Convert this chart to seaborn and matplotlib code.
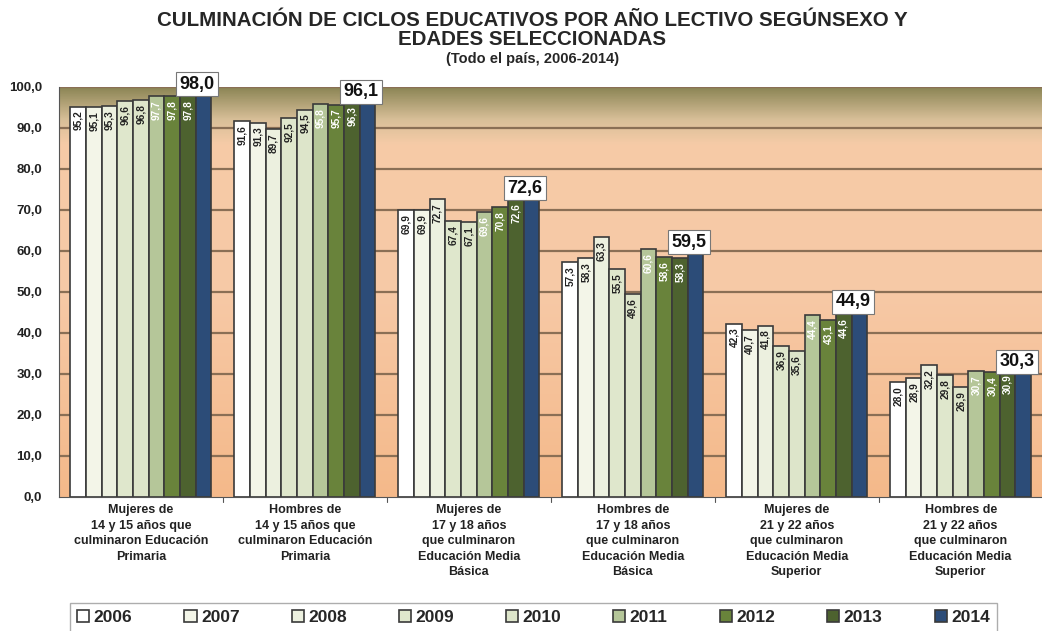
import matplotlib
matplotlib.use("Agg")
import matplotlib.pyplot as plt
import numpy as np
import pandas as pd
import seaborn as sns
from matplotlib.colors import LinearSegmentedColormap

years = ["2006", "2007", "2008", "2009", "2010", "2011", "2012", "2013", "2014"]
groups = [
    "Mujeres de\n14 y 15 años que\nculminaron Educación\nPrimaria",
    "Hombres de\n14 y 15 años que\nculminaron Educación\nPrimaria",
    "Mujeres de\n17 y 18 años\nque culminaron\nEducación Media\nBásica",
    "Hombres de\n17 y 18 años\nque culminaron\nEducación Media\nBásica",
    "Mujeres de\n21 y 22 años\nque culminaron\nEducación Media\nSuperior",
    "Hombres de\n21 y 22 años\nque culminaron\nEducación Media\nSuperior",
]
muj_primaria = [95.2, 95.1, 95.3, 96.6, 96.8, 97.7, 97.8, 97.8, 98.0]
hom_primaria = [91.6, 91.3, 89.7, 92.5, 94.5, 95.8, 95.7, 96.3, 96.1]
muj_basica = [69.9, 69.9, 72.7, 67.4, 67.1, 69.6, 70.8, 72.6, 72.6]
hom_basica = [57.3, 58.3, 63.3, 55.5, 49.6, 60.6, 58.6, 58.3, 59.5]
muj_superior = [42.3, 40.7, 41.8, 36.9, 35.6, 44.4, 43.1, 44.6, 44.9]
hom_superior = [28.0, 28.9, 32.2, 29.8, 26.9, 30.7, 30.4, 30.9, 30.3]

series = [muj_primaria, hom_primaria, muj_basica, hom_basica, muj_superior, hom_superior]
colors = ["#ffffff", "#f4f7e6", "#eef3dc", "#e1ebc8", "#dfe9c6",
          "#b7cd92", "#6d8f2f", "#4e6a27", "#1f4a85"]
text_colors = ["#222222"] * 5 + ["#ffffff"] * 3

rows = []
for g, vals in zip(groups, series):
    for y, v in zip(years, vals):
        rows.append({"grupo": g, "anio": y, "valor": v})
df = pd.DataFrame(rows)

sns.set_style("white")
plt.rcParams["font.family"] = ["Liberation Sans", "DejaVu Sans"]

fig = plt.figure(figsize=(10.42, 6.31), dpi=100)
ax = fig.add_axes([0.0566, 0.2124, 0.944, 0.6498])

# fondo degradado
bg = LinearSegmentedColormap.from_list(
    "bg", [(0.0, "#f4b98a"), (0.5, "#f7c9a6"), (0.86, "#f6cba7"),
           (0.92, "#d8bf98"), (1.0, "#8a8454")])
grad = np.linspace(0, 1, 256).reshape(-1, 1)
ax.imshow(grad, cmap=bg, origin="lower", aspect="auto",
          extent=[-0.5, 5.5, 0, 100], zorder=0)

for yv in range(10, 101, 10):
    ax.axhline(yv, color="#8a6f55", lw=1.6, zorder=1)

sns.barplot(data=df, x="grupo", y="valor", hue="anio", palette=colors,
            width=0.86, edgecolor="#3a3a3a", linewidth=1.2, ax=ax,
            legend=True, zorder=2)

for i, cont in enumerate(ax.containers):
    for bar, g in zip(cont, groups):
        v = bar.get_height()
        x = bar.get_x() + bar.get_width() / 2
        lab = f"{v:.1f}".replace(".", ",")
        if i < 8:
            ax.text(x, v - 1.0, lab, rotation=90, ha="center", va="top",
                    fontsize=7.3, fontweight="bold", color=text_colors[i], zorder=3)
        else:
            ax.text(x - 0.04, v + 0.6, lab, ha="center", va="bottom",
                    fontsize=13, fontweight="bold", color="#111111", zorder=4,
                    bbox=dict(boxstyle="square,pad=0.2", fc="white", ec="#777777", lw=0.8))

ax.set_xlim(-0.5, 5.5)
ax.set_ylim(0, 100)
ax.set_yticks(range(0, 101, 10))
ax.set_yticklabels([f"{v:.1f}".replace(".", ",") for v in range(0, 101, 10)],
                   fontsize=9.5, fontweight="bold", color="#222222")
ax.set_xticks(range(6))
ax.set_xticklabels(groups, fontsize=9, fontweight="bold", color="#222222",
                   linespacing=1.4)
ax.tick_params(axis="x", length=0, pad=5)
ax.tick_params(axis="y", length=0, pad=12)
ax.set_xlabel("")
ax.set_ylabel("")
for s in ["top", "right"]:
    ax.spines[s].set_visible(False)
ax.spines["left"].set_color("#555555")
ax.spines["bottom"].set_color("#555555")
for xs in np.arange(0.5, 5.5, 1):
    ax.plot([xs, xs], [0, -1.2], color="#555555", lw=0.8, clip_on=False)

handles, labels = ax.get_legend_handles_labels()
ax.get_legend().remove()
leg = fig.legend(handles, labels, loc="lower center", ncol=9,
                 bbox_to_anchor=(0.512, -0.01), frameon=True, fancybox=False,
                 edgecolor="#999999", handlelength=0.7, handleheight=0.7,
                 handletextpad=0.25, columnspacing=3.0,
                 prop={"weight": "bold", "size": 12.5}, borderpad=0.4,
                 borderaxespad=0.3)

fig.text(0.511, 0.982, "CULMINACIÓN DE CICLOS EDUCATIVOS POR AÑO LECTIVO SEGÚNSEXO Y\nEDADES SELECCIONADAS",
         ha="center", va="top", fontsize=14.8, fontweight="bold", linespacing=1.0)
fig.text(0.511, 0.918, "(Todo el país, 2006-2014)", ha="center", va="top",
         fontsize=10.5, fontweight="bold")

fig.savefig("out.png", dpi=100)
